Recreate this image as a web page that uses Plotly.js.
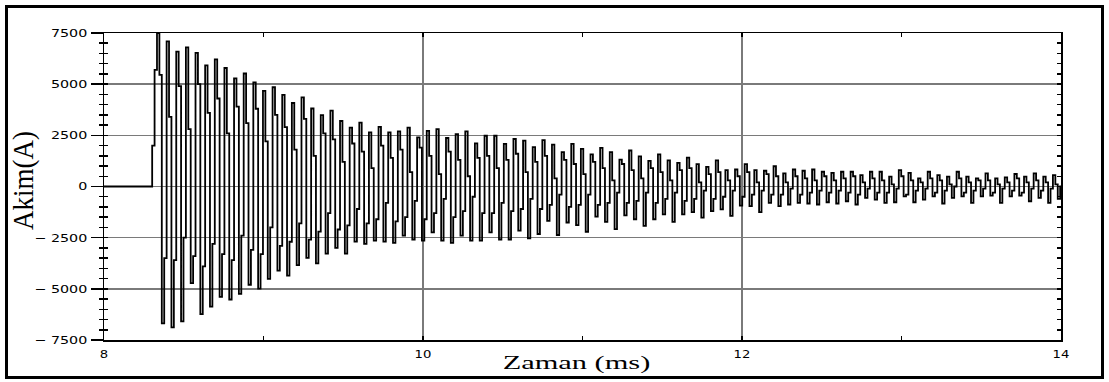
<!DOCTYPE html>
<html>
<head>
<meta charset="utf-8">
<script src="https://cdn.plot.ly/plotly-3.0.1.min.js"></script>
<style>
  html, body { margin: 0; padding: 0; background: #fff; }
  #wrap { position: relative; width: 1109px; height: 382px; overflow: hidden; }
  #chart { position: absolute; left: 0; top: 0; width: 1109px; height: 382px; }
  #frame { position: absolute; left: 5px; top: 5px; width: 1093px; height: 368px;
           border: 3px solid #000; pointer-events: none; }
</style>
</head>
<body>
<div id="wrap">
  <div id="chart"></div>
  <div id="frame"></div>
</div>
<script>
// Time axis (ms) and sampling
const xTicks = [8, 10, 12, 14];
const yTicks = [-7500, -5000, -2500, 0, 2500, 5000, 7500];
const yTickText = ['\u2212 7500', '\u2212 5000', '\u2212 2500', '0', '2500', '5000', '7500'];
const tBegin = 8.0;
const tStart = 8.302;   // first non-zero sample
const tEnd = 14.0;
const dt = 0.0151;      // sample spacing (ms)

// onset samples (A)
const onset = [2000, 5700];

// per-cycle positive peaks (A)
const peakHigh = [7500,7090,6590,6800,6530,5920,6210,5790,5280,5520,
 5090,4670,4850,4480,4080,4350,3810,3490,3710,3200,
 2880,3120,2640,2910,2640,2690,2880,2400,2720,2800,
 2370,2560,2690,2110,2480,2480,2080,2320,2240,1920,
 2270,2050,1680,2080,1840,1570,1890,1680,1310,1760,
 1470,1250,1570,1280,1150,1410,1090,960,1280,800,
 830,1090,800,770,990,640,830,770,830,720,
 670,720,720,560,720,720,480,800,670,400,
 720,560,480,720,480,400,640,400,450,610,
 480,640,480,560];

// per-cycle falling intermediate samples (A)
const midFall = [5450,3400,4900,2800,5000,3600,4300,2600,3900,3100,
 3800,2200,3500,2900,1800,3300,1500,2600,2300,1200,
 2100,1700,900,2000,1400,1800,700,1900,1500,600,
 1700,1300,500,1400,1500,900,1300,1600,700,1200,
 1500,400,1300,1100,600,1200,900,300,1100,800,
 400,900,700,300,800,900,200,600,700,300,
 500,700,200,600,500,200,500,400,300,500,
 300,400,500,200,400,300,100,500,300,200,
 400,300,100,400,200,300,300,100,200,400,
 200,300,200,100];

// per-cycle negative peaks (A)
const peakLow = [-6690,-6880,-6590,-4720,-6240,-5870,-5390,-5520,-5250,-4800,
 -4990,-4510,-4110,-4350,-3840,-3490,-3760,-3280,-3000,-3280,
 -2690,-2800,-2640,-2690,-2750,-2400,-2590,-2640,-2240,-2640,
 -2750,-2400,-2640,-2640,-2240,-2590,-2590,-2160,-2530,-2320,
 -1680,-2370,-1760,-1890,-2210,-1470,-1730,-2080,-1410,-1600,
 -1920,-1600,-1360,-1730,-1360,-1250,-1520,-1200,-1120,-1440,
 -930,-960,-1250,-800,-960,-880,-800,-830,-880,-770,
 -830,-720,-880,-560,-640,-800,-770,-480,-770,-640,
 -480,-830,-560,-480,-800,-480,-450,-800,-480,-450,
 -720,-560,-800,-600];

// per-cycle rising intermediate samples (A)
const midRise = [-3500,-3600,-2500,-3400,-3900,-2800,-3300,-3600,-2400,-3100,
 -3300,-2000,-2900,-2700,-1800,-2600,-2200,-1300,-2100,-1900,
 -1100,-1800,-1600,-800,-1700,-1500,-700,-1600,-1300,-600,
 -1500,-1200,-500,-1300,-1300,-800,-1200,-1100,-600,-1100,
 -900,-400,-1000,-900,-400,-900,-800,-300,-800,-700,
 -300,-800,-600,-300,-700,-600,-200,-600,-500,-200,
 -500,-400,-200,-400,-400,-100,-400,-300,-200,-300,
 -200,-300,-400,-100,-300,-300,-100,-400,-200,-100,
 -300,-200,0,-300,-200,-100,-300,-100,-200,-300,
 -100,-200,-100,0];

// assemble sample sequence from the read values
const samples = onset.slice();
for (let k = 0; k < peakHigh.length; k++) {
  samples.push(peakHigh[k], midFall[k], peakLow[k], midRise[k]);
}
const tx = [tBegin], cy = [0];
for (let i = 0; i < samples.length; i++) {
  const t = tStart + i * dt;
  if (t > tEnd) break;
  tx.push(t); cy.push(samples[i]);
}
tx.push(tEnd); cy.push(cy[cy.length - 1]);

const tickFont = {family: 'DejaVu Sans', size: 11, color: '#000'};
const trace = {
  x: tx, y: cy, type: 'scatter', mode: 'lines',
  line: {color: '#000', width: 1.8, shape: 'hv'},
  hoverinfo: 'skip', showlegend: false
};

const layout = {
  width: 1109, height: 382,
  margin: {l: 104, r: 48, t: 33, b: 42, pad: 0},
  paper_bgcolor: '#fff', plot_bgcolor: '#fff',
  showlegend: false,
  xaxis: {
    range: [8, 14], tickvals: xTicks, ticktext: xTicks.map(String),
    showgrid: true, gridcolor: '#7a7a7a', gridwidth: 1.5,
    showline: true, linecolor: '#000', linewidth: 1.5, mirror: 'ticks',
    ticks: 'inside', ticklen: 4, tickcolor: '#000', tickwidth: 1.5,
    minor: {dtick: 1, tick0: 8, ticks: 'inside', ticklen: 4, tickcolor: '#000', tickwidth: 1.5, showgrid: false},
    zeroline: false, tickfont: tickFont, ticklabelstandoff: 3,
    title: {text: 'Zaman (ms)', font: {family: 'Liberation Serif', size: 19, color: '#000'}, standoff: 0}
  },
  yaxis: {
    range: [-7500, 7500], tickvals: yTicks, ticktext: yTickText,
    showgrid: true, gridcolor: '#7a7a7a', gridwidth: 1.5,
    showline: true, linecolor: '#000', linewidth: 1.5, mirror: 'ticks',
    ticks: 'inside', ticklen: 4, tickcolor: '#000', tickwidth: 1.5,
    minor: {dtick: 500, tick0: 0, ticks: 'inside', ticklen: 4, tickcolor: '#000', tickwidth: 1.5, showgrid: false},
    zeroline: false, tickfont: tickFont, ticklabelstandoff: 13,
    title: {text: 'Akim(A)', font: {family: 'Liberation Serif', size: 27, color: '#000'}, standoff: 6}
  },
  yaxis2: {
    overlaying: 'y', side: 'left', range: [-7500, 7500],
    dtick: 2500, tick0: 0, ticks: 'outside', ticklen: 12, tickcolor: '#000', tickwidth: 1.5,
    minor: {dtick: 500, tick0: 0, ticks: 'outside', ticklen: 4, tickcolor: '#000', tickwidth: 1.5, showgrid: false},
    showticklabels: false, showgrid: false, showline: false, zeroline: false
  }
};

const helper = {x: [8], y: [0], yaxis: 'y2', type: 'scatter', mode: 'markers',
  marker: {opacity: 0}, hoverinfo: 'skip', showlegend: false};

function stretch(el, sx, anchor, dx, dy) {
  const svg = el.ownerSVGElement;
  const r = el.getBoundingClientRect();
  const ax = anchor === 'right' ? r.right : (r.left + r.right) / 2;
  const ay = (r.top + r.bottom) / 2;
  const pt = svg.createSVGPoint(); pt.x = ax; pt.y = ay;
  const p = pt.matrixTransform(el.parentNode.getScreenCTM().inverse());
  const old = el.getAttribute('transform') || '';
  el.setAttribute('transform',
    'translate(' + (p.x + (dx || 0)) + ',' + (p.y + (dy || 0)) + ') scale(' + sx + ',1) translate(' +
    (-p.x) + ',' + (-p.y) + ') ' + old);
}

Plotly.newPlot('chart', [trace, helper], layout, {staticPlot: true, displayModeBar: false}).then(function (gd) {
  gd.querySelectorAll('g.ytick text').forEach(function (el) { stretch(el, 1.3, 'right'); });
  gd.querySelectorAll('g.xtick text').forEach(function (el) { stretch(el, 1.2, 'center'); });
  const xt = gd.querySelector('text.xtitle');
  if (xt) stretch(xt, 1.6, 'center', -6, -4);
  const yt = gd.querySelector('text.ytitle');
  if (yt) stretch(yt, 1.1, 'center', 0, -6);
});
</script>
</body>
</html>
